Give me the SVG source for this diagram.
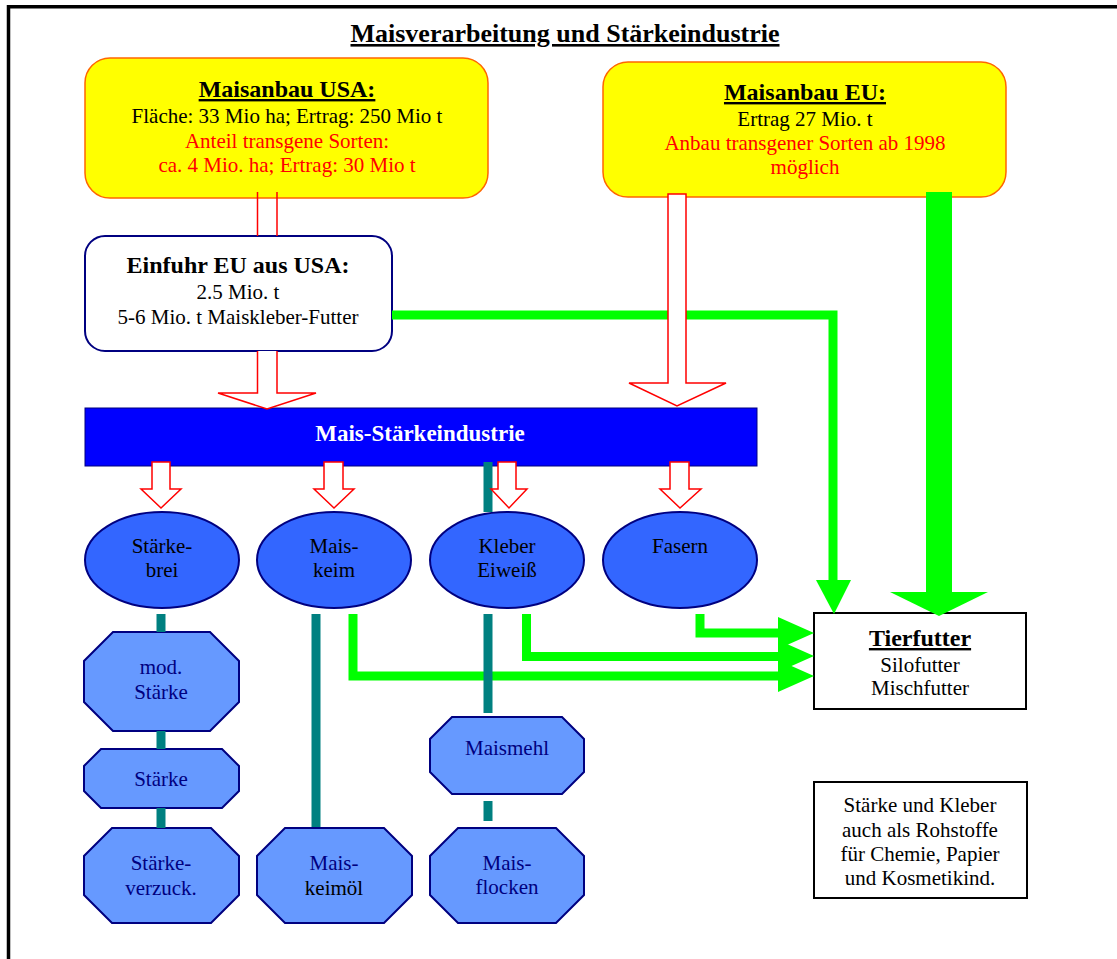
<svg xmlns="http://www.w3.org/2000/svg" width="1117" height="959" viewBox="0 0 1117 959">
<style>
text{font-family:"Liberation Serif","Times New Roman",serif;font-size:21px;text-anchor:middle;fill:#000}
.b{font-weight:bold;font-size:24px}
.u{text-decoration:underline}
.red{fill:#FF0000}
.nv{fill:#000080}
.wh{fill:#FFFFFF}
.yb{fill:#FFFF00;stroke:#FF6600;stroke-width:1.5}
.el{fill:#3366FF;stroke:#000080;stroke-width:2}
.oc{fill:#6699FF;stroke:#000080;stroke-width:2}
.ra{fill:#FFFFFF;stroke:#FF0000;stroke-width:1.5;stroke-linejoin:miter}
.rl{fill:none;stroke:#FF0000;stroke-width:1.5}
.gl{fill:none;stroke:#00FF00;stroke-width:9}
.gh{fill:#00FF00}
.tl{stroke:#008080;stroke-width:9}
.bx{fill:#FFFFFF;stroke:#000000;stroke-width:2}
</style>
<rect width="1117" height="959" fill="#FFFFFF"/>
<path d="M8.5,959 V6.8 H1117" fill="none" stroke="#000" stroke-width="3.5"/>
<text id="title" x="565" y="42" class="b u" style="font-size:26px">Maisverarbeitung und Stärkeindustrie</text>

<g id="usa">
<rect x="85" y="58" width="403" height="140" rx="25" class="yb"/>
<text x="287" y="97" class="b u">Maisanbau USA:</text>
<text x="287" y="123">Fläche: 33 Mio ha; Ertrag: 250 Mio t</text>
<text x="287" y="148" class="red">Anteil transgene Sorten:</text>
<text x="287" y="172" class="red">ca. 4 Mio. ha; Ertrag: 30 Mio t</text>
</g>
<g id="eu">
<rect x="603" y="62" width="403" height="135" rx="25" class="yb"/>
<text x="805" y="100" class="b u">Maisanbau EU:</text>
<text x="805" y="126">Ertrag 27 Mio. t</text>
<text x="805" y="150" class="red">Anbau transgener Sorten ab 1998</text>
<text x="805" y="174" class="red">möglich</text>
</g>
<g id="einfuhr">
<rect x="85" y="236" width="307" height="115" rx="20" fill="#FFFFFF" stroke="#000080" stroke-width="2"/>
<text x="238" y="273" class="b">Einfuhr EU aus USA:</text>
<text x="238" y="299">2.5 Mio. t</text>
<text x="238" y="324">5-6 Mio. t Maiskleber-Futter</text>
</g>
<g id="industrie">
<rect x="85" y="408" width="672" height="58" fill="#0000FF" stroke="#000080" stroke-width="1"/>
<text x="420" y="441" class="b wh" style="font-size:23px">Mais-Stärkeindustrie</text>
</g>
<g id="staerkebrei">
<ellipse cx="162" cy="560" rx="77" ry="48" class="el"/>
<text x="162" y="553">Stärke-</text><text x="162" y="577">brei</text>
</g>
<g id="maiskeim">
<ellipse cx="334" cy="560" rx="77" ry="48" class="el"/>
<text x="334" y="553">Mais-</text><text x="334" y="577">keim</text>
</g>
<g id="kleber">
<ellipse cx="507" cy="560" rx="77" ry="48" class="el"/>
<text x="507" y="553">Kleber</text><text x="507" y="577">Eiweiß</text>
</g>
<g id="fasern">
<ellipse cx="680" cy="560" rx="77" ry="48" class="el"/>
<text x="680" y="553">Fasern</text>
</g>
<g id="modstaerke">
<polygon points="113,632 210,632 239,661 239,702 210,731 113,731 84,702 84,661" class="oc"/>
<text x="161" y="674" class="nv">mod.</text><text x="161" y="699" class="nv">Stärke</text>
</g>
<g id="staerke">
<polygon points="101,749 222,749 239,766 239,791 222,808 101,808 84,791 84,766" class="oc"/>
<text x="161" y="786" class="nv">Stärke</text>
</g>
<g id="verzuck">
<polygon points="112,828 211,828 239,856 239,895 211,923 112,923 84,895 84,856" class="oc"/>
<text x="161" y="870" class="nv">Stärke-</text><text x="161" y="895" class="nv">verzuck.</text>
</g>
<g id="keimoel">
<polygon points="285,828 384,828 412,856 412,895 384,923 285,923 257,895 257,856" class="oc"/>
<text x="334" y="870" class="nv">Mais-</text><text x="334" y="895">keimöl</text>
</g>
<g id="maismehl">
<polygon points="452,717 562,717 584,739 584,772 562,794 452,794 430,772 430,739" class="oc"/>
<text x="507" y="755" class="nv">Maismehl</text>
</g>
<g id="flocken">
<polygon points="458,828 556,828 584,856 584,895 556,923 458,923 430,895 430,856" class="oc"/>
<text x="507" y="870" class="nv">Mais-</text><text x="507" y="894" class="nv">flocken</text>
</g>
<g id="tierfutter">
<rect x="814" y="613" width="212" height="96" class="bx"/>
<text x="920" y="646" class="b u">Tierfutter</text>
<text x="920" y="672">Silofutter</text>
<text x="920" y="695">Mischfutter</text>
</g>
<g id="hinweis">
<rect x="814" y="782" width="213" height="116" class="bx"/>
<text x="920" y="812">Stärke und Kleber</text>
<text x="920" y="837">auch als Rohstoffe</text>
<text x="920" y="861">für Chemie, Papier</text>
<text x="920" y="885">und Kosmetikind.</text>
</g>

<g id="connectors">
<!-- green feed lines -->
<polyline points="392,315 833,315 833,582" class="gl"/>
<polygon points="816,580 851,580 834,614" class="gh"/>
<rect x="926" y="192" width="26" height="401" class="gh"/>
<polygon points="890,592 988,592 939,616" class="gh"/>
<polyline points="700,614 700,633 779,633" class="gl"/>
<polyline points="526.5,614 526.5,656.5 779,656.5" class="gl"/>
<polyline points="353,614 353,676 779,676" class="gl"/>
<polygon points="778,617 814,633 778,649" class="gh"/>
<polygon points="778,640 814,656 778,672" class="gh"/>
<polygon points="778,660 814,676 778,692" class="gh"/>
<!-- teal lines -->
<line x1="161" y1="614" x2="161" y2="632" class="tl"/>
<line x1="161" y1="731" x2="161" y2="749" class="tl"/>
<line x1="161" y1="808" x2="161" y2="828" class="tl"/>
<line x1="316" y1="614" x2="316" y2="827" class="tl"/>
<line x1="488" y1="462" x2="488" y2="512" class="tl"/>
<line x1="488" y1="614" x2="488" y2="713" class="tl"/>
<line x1="488" y1="801" x2="488" y2="821" class="tl"/>
<!-- red block arrows -->
<line x1="257.5" y1="192" x2="257.5" y2="236" class="rl"/>
<line x1="277" y1="192" x2="277" y2="236" class="rl"/>
<path d="M257.5,351 V393 H218 L267,409 L316,393 H277 V351 Z" fill="#FFFFFF"/>
<path d="M257.5,351 V393 H218 L267,409 L316,393 H277 V351" class="rl"/>
<path d="M668,194 H686 V383 H726 L677,406 L629,383 H668 Z" class="ra"/>
<path d="M152,462 H170 V489 H181 L161,508 L141,489 H152 Z" class="ra"/>
<path d="M324,462 H343 V489 H354 L334,508 L314,489 H324 Z" class="ra"/>
<path d="M498,462 H516 V489 H527 L509,508 L491,489 H498 Z" class="ra"/>
<path d="M670,462 H689 V489 H701 L680,508 L660,489 H670 Z" class="ra"/>
</g>
</svg>
